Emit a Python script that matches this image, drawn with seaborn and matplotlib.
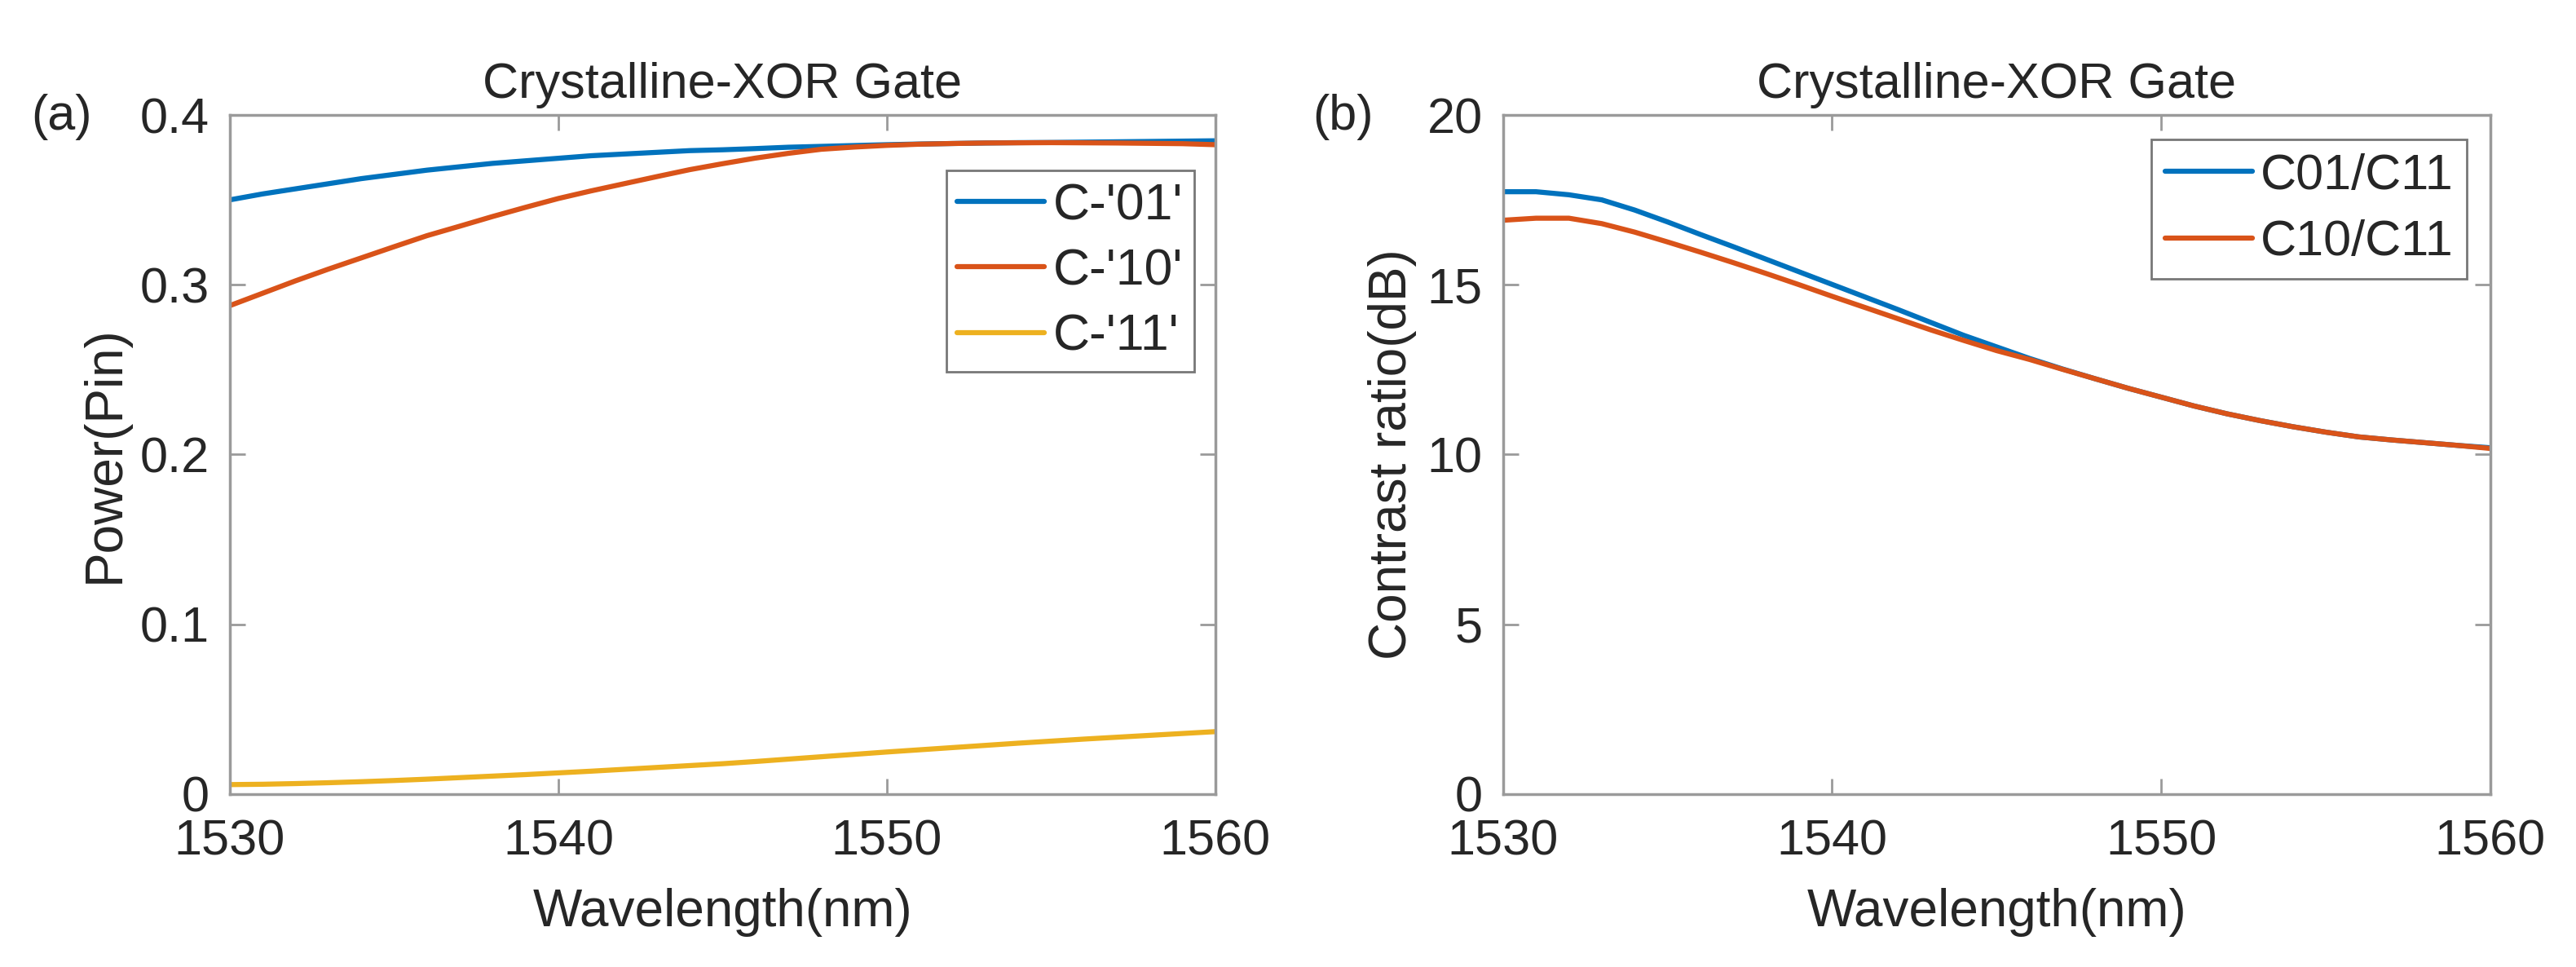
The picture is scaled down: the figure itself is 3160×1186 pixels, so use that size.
import numpy as np
import pandas as pd
import matplotlib
matplotlib.use("Agg")
import matplotlib.pyplot as plt
import seaborn as sns

# ---- data ----
wavelength = list(range(1530, 1561))

c01 = [0.3500, 0.3535, 0.3565, 0.3595, 0.3625, 0.3650, 0.3675, 0.3695, 0.3715, 0.3730,
       0.3745, 0.3760, 0.3770, 0.3780, 0.3790, 0.3795, 0.3802, 0.3810, 0.3815, 0.3820,
       0.3825, 0.3829, 0.3832, 0.3835, 0.3837, 0.3838, 0.3840, 0.3842, 0.3844, 0.3846, 0.3848]
c10 = [0.2877, 0.2950, 0.3023, 0.3092, 0.3158, 0.3224, 0.3289, 0.3345, 0.3402, 0.3456,
       0.3508, 0.3553, 0.3595, 0.3637, 0.3678, 0.3713, 0.3746, 0.3774, 0.3798, 0.3811,
       0.3821, 0.3828, 0.3832, 0.3835, 0.3836, 0.3837, 0.3836, 0.3835, 0.3833, 0.3831, 0.3825]
c11 = [0.0056, 0.0058, 0.0062, 0.0067, 0.0073, 0.0080, 0.0088, 0.0097, 0.0106, 0.0115,
       0.0125, 0.0135, 0.0146, 0.0157, 0.0168, 0.0179, 0.0192, 0.0206, 0.0220, 0.0234,
       0.0248, 0.0261, 0.0274, 0.0287, 0.0300, 0.0312, 0.0324, 0.0335, 0.0346, 0.0357, 0.0368]

cr01 = [17.74, 17.74, 17.65, 17.50, 17.20, 16.85, 16.48, 16.12, 15.75, 15.38,
        15.01, 14.64, 14.27, 13.89, 13.51, 13.17, 12.83, 12.52, 12.23, 11.95,
        11.69, 11.43, 11.20, 11.00, 10.82, 10.66, 10.52, 10.43, 10.35, 10.27, 10.20]
cr10 = [16.90, 16.96, 16.96, 16.80, 16.55, 16.26, 15.96, 15.65, 15.33, 15.00,
        14.66, 14.33, 14.00, 13.67, 13.36, 13.06, 12.80, 12.51, 12.23, 11.95,
        11.69, 11.43, 11.20, 11.00, 10.82, 10.66, 10.52, 10.43, 10.35, 10.27, 10.18]

power_labels = ["C-'01'", "C-'10'", "C-'11'"]
ratio_labels = ["C01/C11", "C10/C11"]
xticks = [1530, 1540, 1550, 1560]
yticks_a = [0, 0.1, 0.2, 0.3, 0.4]
yticks_b = [0, 5, 10, 15, 20]
title = "Crystalline-XOR Gate"

colors = ["#0072BD", "#D95319", "#EDB120"]

sns.set_theme(style="white")
plt.rcParams['font.family'] = ['Liberation Sans', 'DejaVu Sans']

n = len(wavelength)
df_a = pd.DataFrame({"Wavelength": wavelength * 3,
                     "Power": c01 + c10 + c11,
                     "Series": [power_labels[0]] * n + [power_labels[1]] * n + [power_labels[2]] * n})
df_b = pd.DataFrame({"Wavelength": wavelength * 2,
                     "Ratio": cr01 + cr10,
                     "Series": [ratio_labels[0]] * n + [ratio_labels[1]] * n})

fig = plt.figure(figsize=(31.6, 11.86), dpi=100)
ax1 = fig.add_axes([0.0892, 0.1788, 0.3826, 0.7023])
ax2 = fig.add_axes([0.5835, 0.1788, 0.3832, 0.7023])

sns.lineplot(data=df_a, x="Wavelength", y="Power", hue="Series", palette=colors[:3],
             linewidth=4.5, ax=ax1, sort=False)
sns.lineplot(data=df_b, x="Wavelength", y="Ratio", hue="Series", palette=colors[:2],
             linewidth=4.5, ax=ax2, sort=False)

spine_col = "#9a9a9a"
text_col = "#262626"
for ax, yt, ylab, ylim in [(ax1, yticks_a, "Power(Pin)", (0, 0.4)),
                           (ax2, yticks_b, "Contrast ratio(dB)", (0, 20))]:
    ax.set_xlim(1530, 1560)
    ax.set_ylim(*ylim)
    ax.set_xticks(xticks)
    ax.set_yticks(yt)
    ax.set_yticklabels([("%g" % v) for v in yt])
    ax.tick_params(direction="in", length=14, width=2, colors=spine_col,
                   labelcolor=text_col, labelsize=44, top=True, right=True,
                   bottom=True, left=True)
    ax.tick_params(axis="y", pad=18)
    ax.tick_params(axis="x", pad=22)
    for s in ax.spines.values():
        s.set_color(spine_col)
        s.set_linewidth(2.5)
    ax.set_xlabel("Wavelength(nm)", fontsize=46, color=text_col, labelpad=20)
    ax.set_ylabel(ylab, fontsize=46, color=text_col, labelpad=9)
    ax.set_title(title, fontsize=44, color=text_col, pad=15)

leg1 = ax1.legend(loc="upper right", bbox_to_anchor=(0.9785, 0.918), fontsize=45,
                  frameon=True, fancybox=False, edgecolor="#555555",
                  handlelength=1.7, handletextpad=0.18, labelspacing=0.34,
                  borderpad=0.22, borderaxespad=0)
leg2 = ax2.legend(loc="upper right", bbox_to_anchor=(0.976, 0.964), fontsize=44,
                  frameon=True, fancybox=False, edgecolor="#555555",
                  handlelength=1.75, handletextpad=0.16, labelspacing=0.40,
                  borderpad=0.27, borderaxespad=0)
for leg in (leg1, leg2):
    leg.get_frame().set_linewidth(2)
    for line in leg.get_lines():
        line.set_linewidth(4.5)

fig.text(38 / 3160, 1 - 143 / 1186, "(a)", fontsize=44, color=text_col, va="center", ha="left")
fig.text(1610 / 3160, 1 - 143 / 1186, "(b)", fontsize=44, color=text_col, va="center", ha="left")

fig.savefig("out.png", dpi=100, facecolor="white")
